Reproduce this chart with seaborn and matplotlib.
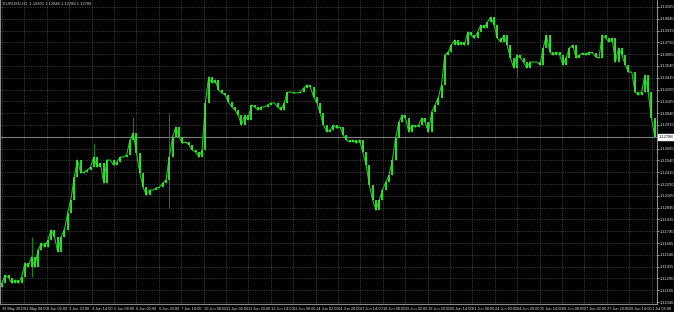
import numpy as np
import pandas as pd
import matplotlib
matplotlib.use("Agg")
import matplotlib.pyplot as plt
import matplotlib.transforms as mtransforms
from matplotlib import font_manager
import seaborn as sns

# ---------------- data (hourly closes, EURUSD) ----------------
first_open = 1.11200
week1_closes = [1.11241, 1.11326, 1.11294, 1.11241, 1.11273, 1.11241, 1.11305, 1.11453, 1.11411, 1.11517,
                1.11411, 1.11590, 1.11665, 1.11622, 1.11697, 1.11803, 1.11729, 1.11570, 1.11729, 1.11803,
                1.11983, 1.12120, 1.12364, 1.12544, 1.12406, 1.12417, 1.12438, 1.12470, 1.12576, 1.12470,
                1.12512, 1.12301, 1.12544, 1.12544, 1.12491, 1.12523, 1.12576, 1.12576, 1.12597, 1.12756,
                1.12830, 1.12618, 1.12406, 1.12258, 1.12173, 1.12226, 1.12226, 1.12248, 1.12258, 1.12301,
                1.12332, 1.12576, 1.12788, 1.12894, 1.12788, 1.12724, 1.12735, 1.12703, 1.12650, 1.12629,
                1.12576, 1.12650]
week2_closes = [1.13148, 1.13423, 1.13360, 1.13392, 1.13286, 1.13254, 1.13233, 1.13159, 1.13106, 1.13074,
                1.13021, 1.12915, 1.13021, 1.12968, 1.13127, 1.13106, 1.13074, 1.13106, 1.13106, 1.13127,
                1.13148, 1.13148, 1.13106, 1.13074, 1.13148, 1.13264, 1.13264, 1.13254, 1.13254, 1.13264,
                1.13307, 1.13339, 1.13317, 1.13212, 1.13148, 1.13042, 1.12915, 1.12841]
week3_closes = [1.12862, 1.12915, 1.12883, 1.12894, 1.12809, 1.12756, 1.12735, 1.12756, 1.12724, 1.12756,
                1.12629, 1.12491, 1.12279, 1.12120, 1.12015, 1.12120, 1.12226, 1.12311, 1.12385, 1.12544]
week4_closes = [1.12777, 1.12947, 1.13021, 1.12989, 1.12841, 1.12915, 1.12894, 1.12915, 1.12989, 1.12947,
                1.12841, 1.13053, 1.13127, 1.13201, 1.13339, 1.13656, 1.13688, 1.13762, 1.13815, 1.13762,
                1.13794, 1.13762, 1.13900, 1.13868, 1.13836, 1.13900, 1.13974, 1.13942, 1.14006, 1.14059,
                1.13974, 1.13836, 1.13794, 1.13868, 1.13762, 1.13625, 1.13519, 1.13656, 1.13625, 1.13582,
                1.13519, 1.13582, 1.13582, 1.13582, 1.13551, 1.13731, 1.13868, 1.13688, 1.13656, 1.13688,
                1.13656, 1.13551, 1.13625, 1.13731, 1.13762, 1.13625, 1.13656, 1.13678, 1.13656, 1.13688,
                1.13678, 1.13635, 1.13625, 1.13868, 1.13836, 1.13794, 1.13836, 1.13582, 1.13731, 1.13656,
                1.13551, 1.13476, 1.13476, 1.13264, 1.13233, 1.13264, 1.13445, 1.13264, 1.12989, 1.12788]

# wick spikes: bar index, high, low
spike_bars = [9, 28, 40, 51, 157]
spike_highs = [1.11729, 1.12724, 1.13000, 1.13042, 1.13625]
spike_lows = [1.11305, 1.12470, 1.12756, 1.12036, 1.13423]

price_ticks = [1.14165, 1.14040, 1.13915, 1.13790, 1.13665, 1.13540, 1.13415, 1.13290, 1.13165,
               1.13040, 1.12915, 1.12790, 1.12665, 1.12540, 1.12415, 1.12290, 1.12165, 1.12040,
               1.11915, 1.11790, 1.11665, 1.11540, 1.11415, 1.11290, 1.11165, 1.11040]
time_labels = ["30 May 2019", "31 May 08:00", "3 Jun 02:00", "3 Jun 20:00", "4 Jun 14:00",
               "5 Jun 08:00", "6 Jun 02:00", "6 Jun 20:00", "7 Jun 14:00", "10 Jun 08:00",
               "11 Jun 02:00", "11 Jun 20:00", "12 Jun 14:00", "13 Jun 08:00", "14 Jun 02:00",
               "14 Jun 20:00", "17 Jun 14:00", "18 Jun 08:00", "19 Jun 02:00", "19 Jun 20:00",
               "20 Jun 14:00", "21 Jun 08:00", "24 Jun 02:00", "24 Jun 20:00", "25 Jun 14:00",
               "26 Jun 08:00", "27 Jun 02:00", "27 Jun 20:00", "28 Jun 14:00", "1 Jul 08:00"]
title_text = "EURUSD,H1  1.12831 1.12846 1.12788 1.12788"

# ---------------- build table ----------------
closes = np.array(week1_closes + week2_closes + week3_closes + week4_closes)
opens = np.concatenate([[first_open], closes[:-1]])
df = pd.DataFrame({"bar": np.arange(len(closes)), "open": opens, "close": closes})
df["low"] = df[["open", "close"]].min(axis=1)
df["high"] = df[["open", "close"]].max(axis=1)
for b, h, l in zip(spike_bars, spike_highs, spike_lows):
    df.loc[b, "high"] = max(df.loc[b, "high"], h)
    df.loc[b, "low"] = min(df.loc[b, "low"], l)

# ---------------- style ----------------
sns.set_style("dark", rc={"axes.facecolor": "black", "figure.facecolor": "black",
                          "grid.color": "#555555", "text.color": "white",
                          "xtick.color": "#dddddd", "ytick.color": "#dddddd"})
names = {f.name for f in font_manager.fontManager.ttflist}
narrow = "Liberation Sans Narrow" if "Liberation Sans Narrow" in names else "Liberation Sans"
plt.rcParams["font.family"] = [narrow, "DejaVu Sans"]
FS = 3.0
FSX = 2.8

W, H = 674, 312
fig = plt.figure(figsize=(W / 100, H / 100), dpi=100)
ax = fig.add_axes([0, 8 / H, 657 / W, 304 / H])
ax.set_facecolor("black")

px_per_bar = 3.28

# candles
ax.vlines(df["bar"], df["low"], df["high"], color="#0a8c0a", linewidth=0.7, zorder=3)
sns.lineplot(data=df, x="bar", y="close", ax=ax, color="#1ec81e", linewidth=0.8, zorder=3)
ax.vlines(df["bar"], df["open"], df["close"], color="#33e633", linewidth=1.3, zorder=4)

ax.set_xlim(-2 / px_per_bar, -2 / px_per_bar + 657 / px_per_bar)
ax.set_ylim(1.11019, 1.14239)
ax.set_xlabel("")
ax.set_ylabel("")

# grid / ticks
ax.set_yticks(price_ticks)
ax.set_yticklabels([f"{p:.5f}" for p in price_ticks])
tick_pos = [k * 22.4 / px_per_bar for k in range(len(time_labels))]
ax.set_xticks(tick_pos)
ax.set_xticklabels(time_labels)
ax.grid(True, which="major", color="#4d4d4d", linestyle=(0, (1.2, 1.6)), linewidth=0.6)
ax.set_axisbelow(True)

# current price line
last = df["close"].iloc[-1]
ax.axhline(last, color="#7a7a7a", linewidth=0.8, zorder=2)

# axes decoration
ax.yaxis.tick_right()
ax.tick_params(axis="y", labelsize=FS, length=1.5, width=0.5, pad=0.8, colors="#dddddd",
               left=False, right=True)
ax.tick_params(axis="x", labelsize=FSX, length=1.5, width=0.5, pad=0.6, colors="#dddddd")
for lab in ax.get_xticklabels():
    lab.set_ha("left")
for side in ["right", "bottom", "left"]:
    ax.spines[side].set_color("#8a8a8a")
    ax.spines[side].set_linewidth(0.8)
    ax.spines[side].set_visible(True)
ax.spines["top"].set_visible(False)

trans = mtransforms.blended_transform_factory(ax.transAxes, ax.transData)
ax.text(1.003, last, f"{last:.5f}", transform=trans, fontsize=FS, color="black",
        va="center", ha="left", zorder=10,
        bbox=dict(boxstyle="square,pad=0.15", facecolor="white", edgecolor="white"))

fig.text(3 / W, 1 - 4 / H, title_text, fontsize=FS, color="#cccccc", va="center", ha="left")

fig.savefig("out.png", dpi=100, facecolor="black")
